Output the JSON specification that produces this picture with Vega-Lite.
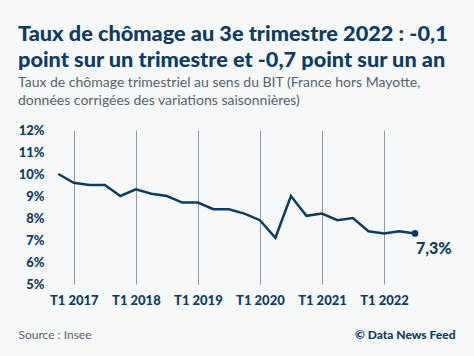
{
  "$schema": "https://vega.github.io/schema/vega-lite/v6.json",
  "autosize": "none",
  "width": 397,
  "height": 154,
  "padding": {"left": 49, "top": 130, "right": 28, "bottom": 72},
  "background": "#f7f8f9",
  "config": {"view": {"stroke": null}, "font": "Lato"},
  "title": {
    "text": ["Taux de chômage au 3e trimestre 2022 : -0,1", "point sur un trimestre et -0,7 point sur un an"],
    "subtitle": ["Taux de chômage trimestriel au sens du BIT (France hors Mayotte,", "données corrigées des variations saisonnières)"],
    "anchor": "start",
    "frame": "group",
    "dx": -31,
    "offset": 16,
    "font": "Lato",
    "fontSize": 21.7,
    "fontWeight": 900,
    "color": "#0f3b5f",
    "lineHeight": 26,
    "subtitleFont": "Lato",
    "subtitleFontSize": 14,
    "subtitleColor": "#56626e",
    "subtitleLineHeight": 18,
    "subtitlePadding": 4
  },
  "data": {
    "values": [
      {"periode": "T4 2016", "t": 2016.75, "taux": 10.0},
      {"periode": "T1 2017", "t": 2017.0, "taux": 9.6},
      {"periode": "T2 2017", "t": 2017.25, "taux": 9.5},
      {"periode": "T3 2017", "t": 2017.5, "taux": 9.5},
      {"periode": "T4 2017", "t": 2017.75, "taux": 9.0},
      {"periode": "T1 2018", "t": 2018.0, "taux": 9.3},
      {"periode": "T2 2018", "t": 2018.25, "taux": 9.1},
      {"periode": "T3 2018", "t": 2018.5, "taux": 9.0},
      {"periode": "T4 2018", "t": 2018.75, "taux": 8.7},
      {"periode": "T1 2019", "t": 2019.0, "taux": 8.7},
      {"periode": "T2 2019", "t": 2019.25, "taux": 8.4},
      {"periode": "T3 2019", "t": 2019.5, "taux": 8.4},
      {"periode": "T4 2019", "t": 2019.75, "taux": 8.2},
      {"periode": "T1 2020", "t": 2020.0, "taux": 7.9},
      {"periode": "T2 2020", "t": 2020.25, "taux": 7.1},
      {"periode": "T3 2020", "t": 2020.5, "taux": 9.0},
      {"periode": "T4 2020", "t": 2020.75, "taux": 8.1},
      {"periode": "T1 2021", "t": 2021.0, "taux": 8.2},
      {"periode": "T2 2021", "t": 2021.25, "taux": 7.9},
      {"periode": "T3 2021", "t": 2021.5, "taux": 8.0},
      {"periode": "T4 2021", "t": 2021.75, "taux": 7.4},
      {"periode": "T1 2022", "t": 2022.0, "taux": 7.3},
      {"periode": "T2 2022", "t": 2022.25, "taux": 7.4},
      {"periode": "T3 2022", "t": 2022.5, "taux": 7.3, "label": "7,3%"}
    ]
  },
  "layer": [
    {
      "mark": {"type": "line", "color": "#0f3b5f", "strokeWidth": 2.5},
      "encoding": {
        "x": {
          "field": "t",
          "type": "quantitative",
          "scale": {"domain": [2016.6, 2023.0], "nice": false, "zero": false},
          "axis": {
            "values": [2017, 2018, 2019, 2020, 2021, 2022],
            "labelExpr": "'T1 ' + datum.value",
            "grid": true,
            "gridColor": "#8e9ba6",
            "gridWidth": 1,
            "gridOpacity": 1,
            "domain": false,
            "ticks": false,
            "labelPadding": 10,
            "labelFont": "Lato",
            "labelFontSize": 13,
            "labelFontWeight": 900,
            "labelColor": "#0f3b5f",
            "title": "Source : Insee",
            "titleFont": "Lato",
            "titleFontSize": 12,
            "titleFontWeight": "normal",
            "titleColor": "#56626e",
            "titleAnchor": "start",
            "titleAlign": "left",
            "titleBaseline": "alphabetic",
            "titleX": -31,
            "titleY": 54
          }
        },
        "y": {
          "field": "taux",
          "type": "quantitative",
          "scale": {"domain": [5, 12], "nice": false, "zero": false},
          "axis": {
            "values": [5, 6, 7, 8, 9, 10, 11, 12],
            "labelExpr": "datum.value + '%'",
            "grid": false,
            "domain": false,
            "ticks": false,
            "labelPadding": 5,
            "labelFont": "Lato",
            "labelFontSize": 13,
            "labelFontWeight": 900,
            "labelColor": "#0f3b5f",
            "title": null
          }
        }
      }
    },
    {
      "transform": [{"filter": "datum.label != null"}],
      "mark": {"type": "point", "filled": true, "color": "#0f3b5f", "size": 45, "opacity": 1},
      "encoding": {
        "x": {"field": "t", "type": "quantitative"},
        "y": {
          "field": "taux",
          "type": "quantitative",
          "axis": {
            "orient": "right",
            "labels": false,
            "grid": false,
            "domain": false,
            "ticks": false,
            "title": "© Data News Feed",
            "titleAngle": 0,
            "titleAlign": "right",
            "titleBaseline": "alphabetic",
            "titleFont": "Lato",
            "titleFontSize": 12,
            "titleFontWeight": 900,
            "titleColor": "#0f3b5f",
            "titleX": 9,
            "titleY": 208
          }
        }
      }
    },
    {
      "transform": [{"filter": "datum.label != null"}],
      "mark": {"type": "text", "align": "left", "baseline": "alphabetic", "dx": 1, "dy": 21, "font": "Lato", "fontSize": 16, "fontWeight": 900, "color": "#0f3b5f"},
      "encoding": {
        "x": {"field": "t", "type": "quantitative"},
        "y": {"field": "taux", "type": "quantitative", "axis": null},
        "text": {"field": "label"}
      }
    }
  ],
  "resolve": {"axis": {"y": "independent"}}
}
